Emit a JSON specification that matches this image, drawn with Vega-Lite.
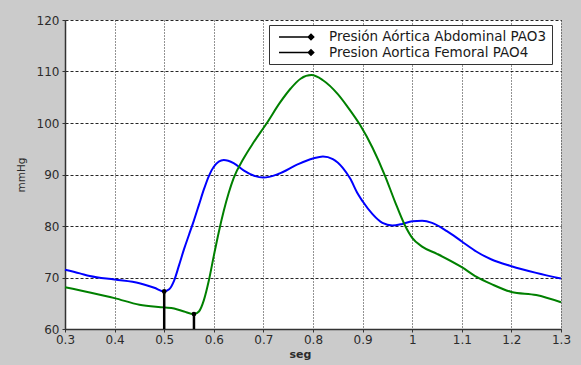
{
  "$schema": "https://vega.github.io/schema/vega-lite/v6.json",
  "width": 496,
  "height": 309,
  "autosize": "none",
  "padding": {"left": 65, "top": 20, "right": 20, "bottom": 36},
  "background": "#cbcbcb",
  "config": {
    "view": {"fill": "white", "stroke": null},
    "font": "DejaVu Sans",
    "axis": {
      "labelFont": "DejaVu Sans",
      "labelFontSize": 12,
      "labelColor": "#2b2b2b",
      "domainColor": "#333333",
      "domainWidth": 1.5,
      "tickColor": "#333333",
      "tickSize": 3,
      "gridColor": "#000000",
      "gridOpacity": 0.85,
      "gridWidth": 1,
      "titleFont": "DejaVu Sans",
      "titleColor": "#2b2b2b"
    },
    "legend": {
      "labelFont": "DejaVu Sans"
    }
  },
  "datasets": {
    "curves": [
      {"t": 0.30, "p": 71.5, "serie": "PAO3"},
      {"t": 0.33, "p": 70.8, "serie": "PAO3"},
      {"t": 0.35, "p": 70.3, "serie": "PAO3"},
      {"t": 0.40, "p": 69.6, "serie": "PAO3"},
      {"t": 0.45, "p": 68.9, "serie": "PAO3"},
      {"t": 0.48, "p": 68.0, "serie": "PAO3"},
      {"t": 0.50, "p": 67.3, "serie": "PAO3"},
      {"t": 0.51, "p": 67.7, "serie": "PAO3"},
      {"t": 0.52, "p": 69.4, "serie": "PAO3"},
      {"t": 0.53, "p": 72.4, "serie": "PAO3"},
      {"t": 0.54, "p": 75.5, "serie": "PAO3"},
      {"t": 0.55, "p": 78.3, "serie": "PAO3"},
      {"t": 0.56, "p": 81.1, "serie": "PAO3"},
      {"t": 0.57, "p": 84.1, "serie": "PAO3"},
      {"t": 0.58, "p": 87.1, "serie": "PAO3"},
      {"t": 0.59, "p": 89.7, "serie": "PAO3"},
      {"t": 0.60, "p": 91.5, "serie": "PAO3"},
      {"t": 0.62, "p": 92.8, "serie": "PAO3"},
      {"t": 0.64, "p": 92.2, "serie": "PAO3"},
      {"t": 0.66, "p": 90.8, "serie": "PAO3"},
      {"t": 0.68, "p": 89.8, "serie": "PAO3"},
      {"t": 0.70, "p": 89.4, "serie": "PAO3"},
      {"t": 0.73, "p": 90.1, "serie": "PAO3"},
      {"t": 0.77, "p": 92.0, "serie": "PAO3"},
      {"t": 0.80, "p": 93.1, "serie": "PAO3"},
      {"t": 0.82, "p": 93.5, "serie": "PAO3"},
      {"t": 0.84, "p": 93.0, "serie": "PAO3"},
      {"t": 0.86, "p": 91.3, "serie": "PAO3"},
      {"t": 0.875, "p": 89.2, "serie": "PAO3"},
      {"t": 0.89, "p": 86.3, "serie": "PAO3"},
      {"t": 0.90, "p": 84.8, "serie": "PAO3"},
      {"t": 0.92, "p": 82.3, "serie": "PAO3"},
      {"t": 0.94, "p": 80.6, "serie": "PAO3"},
      {"t": 0.96, "p": 80.1, "serie": "PAO3"},
      {"t": 0.98, "p": 80.4, "serie": "PAO3"},
      {"t": 1.00, "p": 80.9, "serie": "PAO3"},
      {"t": 1.02, "p": 81.0, "serie": "PAO3"},
      {"t": 1.04, "p": 80.6, "serie": "PAO3"},
      {"t": 1.07, "p": 79.0, "serie": "PAO3"},
      {"t": 1.10, "p": 77.0, "serie": "PAO3"},
      {"t": 1.13, "p": 75.0, "serie": "PAO3"},
      {"t": 1.16, "p": 73.5, "serie": "PAO3"},
      {"t": 1.20, "p": 72.2, "serie": "PAO3"},
      {"t": 1.25, "p": 70.9, "serie": "PAO3"},
      {"t": 1.30, "p": 69.8, "serie": "PAO3"},

      {"t": 0.30, "p": 68.1, "serie": "PAO4"},
      {"t": 0.35, "p": 67.1, "serie": "PAO4"},
      {"t": 0.40, "p": 66.0, "serie": "PAO4"},
      {"t": 0.45, "p": 64.7, "serie": "PAO4"},
      {"t": 0.50, "p": 64.2, "serie": "PAO4"},
      {"t": 0.52, "p": 64.0, "serie": "PAO4"},
      {"t": 0.54, "p": 63.4, "serie": "PAO4"},
      {"t": 0.56, "p": 62.9, "serie": "PAO4"},
      {"t": 0.57, "p": 63.4, "serie": "PAO4"},
      {"t": 0.58, "p": 65.6, "serie": "PAO4"},
      {"t": 0.59, "p": 69.4, "serie": "PAO4"},
      {"t": 0.60, "p": 74.2, "serie": "PAO4"},
      {"t": 0.61, "p": 78.8, "serie": "PAO4"},
      {"t": 0.62, "p": 82.9, "serie": "PAO4"},
      {"t": 0.63, "p": 86.4, "serie": "PAO4"},
      {"t": 0.64, "p": 89.3, "serie": "PAO4"},
      {"t": 0.66, "p": 93.1, "serie": "PAO4"},
      {"t": 0.68, "p": 96.2, "serie": "PAO4"},
      {"t": 0.707, "p": 100.0, "serie": "PAO4"},
      {"t": 0.733, "p": 103.9, "serie": "PAO4"},
      {"t": 0.755, "p": 106.7, "serie": "PAO4"},
      {"t": 0.775, "p": 108.6, "serie": "PAO4"},
      {"t": 0.797, "p": 109.3, "serie": "PAO4"},
      {"t": 0.82, "p": 108.3, "serie": "PAO4"},
      {"t": 0.85, "p": 105.6, "serie": "PAO4"},
      {"t": 0.87, "p": 103.1, "serie": "PAO4"},
      {"t": 0.895, "p": 99.6, "serie": "PAO4"},
      {"t": 0.92, "p": 95.2, "serie": "PAO4"},
      {"t": 0.945, "p": 89.8, "serie": "PAO4"},
      {"t": 0.965, "p": 84.8, "serie": "PAO4"},
      {"t": 0.985, "p": 80.2, "serie": "PAO4"},
      {"t": 1.00, "p": 77.7, "serie": "PAO4"},
      {"t": 1.02, "p": 76.0, "serie": "PAO4"},
      {"t": 1.05, "p": 74.6, "serie": "PAO4"},
      {"t": 1.10, "p": 72.0, "serie": "PAO4"},
      {"t": 1.13, "p": 70.1, "serie": "PAO4"},
      {"t": 1.16, "p": 68.7, "serie": "PAO4"},
      {"t": 1.20, "p": 67.2, "serie": "PAO4"},
      {"t": 1.25, "p": 66.6, "serie": "PAO4"},
      {"t": 1.30, "p": 65.2, "serie": "PAO4"}
    ],
    "stems": [
      {"t": 0.50, "p": 67.3, "leyenda": "Presión Aórtica Abdominal PAO3"},
      {"t": 0.56, "p": 62.9, "leyenda": "Presion Aortica Femoral PAO4"}
    ]
  },
  "layer": [
    {
      "data": {"name": "curves"},
      "mark": {"type": "line", "strokeWidth": 2, "interpolate": "monotone"},
      "encoding": {
        "x": {
          "field": "t",
          "type": "quantitative",
          "scale": {"domain": [0.3, 1.3], "nice": false, "zero": false},
          "axis": {
            "values": [0.3, 0.4, 0.5, 0.6, 0.7, 0.8, 0.9, 1.0, 1.1, 1.2, 1.3],
            "format": "~g",
            "title": "seg",
            "titleFontSize": 11,
            "titleFontWeight": "bold",
            "titleX": 235,
            "titleY": 25,
            "titleBaseline": "middle",
            "labelPadding": 2,
            "gridDash": [1, 2],
            "labelFlush": false,
            "labelOverlap": false
          }
        },
        "y": {
          "field": "p",
          "type": "quantitative",
          "scale": {"domain": [60, 120], "nice": false, "zero": false},
          "axis": {
            "values": [60, 70, 80, 90, 100, 110, 120],
            "title": "mmHg",
            "titleFontSize": 10.5,
            "titleFontWeight": "normal",
            "titleX": -44,
            "titleBaseline": "middle",
            "labelPadding": 3,
            "gridDash": [3, 2],
            "labelFlush": false,
            "labelOverlap": false
          }
        },
        "stroke": {
          "field": "serie",
          "type": "nominal",
          "scale": {
            "domain": ["PAO3", "PAO4"],
            "range": ["#0000ff", "#008000"]
          },
          "legend": null
        }
      }
    },
    {
      "data": {"name": "stems"},
      "mark": {"type": "rule", "color": "black", "strokeWidth": 2.5},
      "encoding": {
        "x": {"field": "t", "type": "quantitative"},
        "y": {"field": "p", "type": "quantitative"},
        "y2": {"datum": 60}
      }
    },
    {
      "data": {"name": "stems"},
      "mark": {"type": "point", "filled": true, "size": 22, "opacity": 1},
      "encoding": {
        "x": {"field": "t", "type": "quantitative"},
        "y": {"field": "p", "type": "quantitative"},
        "fill": {
          "field": "leyenda",
          "type": "nominal",
          "scale": {
            "domain": ["Presión Aórtica Abdominal PAO3", "Presion Aortica Femoral PAO4"],
            "range": ["black", "black"]
          },
          "legend": {
            "title": null,
            "orient": "none",
            "legendX": 204,
            "legendY": 5,
            "fillColor": "white",
            "strokeColor": "#333333",
            "padding": 5,
            "labelFontSize": 13.5,
            "labelColor": "#1a1a1a",
            "labelLimit": 400,
            "symbolType": "M-0.33,0L5,0M5,-0.45L5.45,0L5,0.45L4.55,0Z",
            "symbolSize": 144,
            "symbolStrokeColor": "black",
            "symbolStrokeWidth": 1.5,
            "symbolOpacity": 1,
            "rowPadding": 1.5,
            "labelOffset": 41
          }
        }
      }
    }
  ]
}
